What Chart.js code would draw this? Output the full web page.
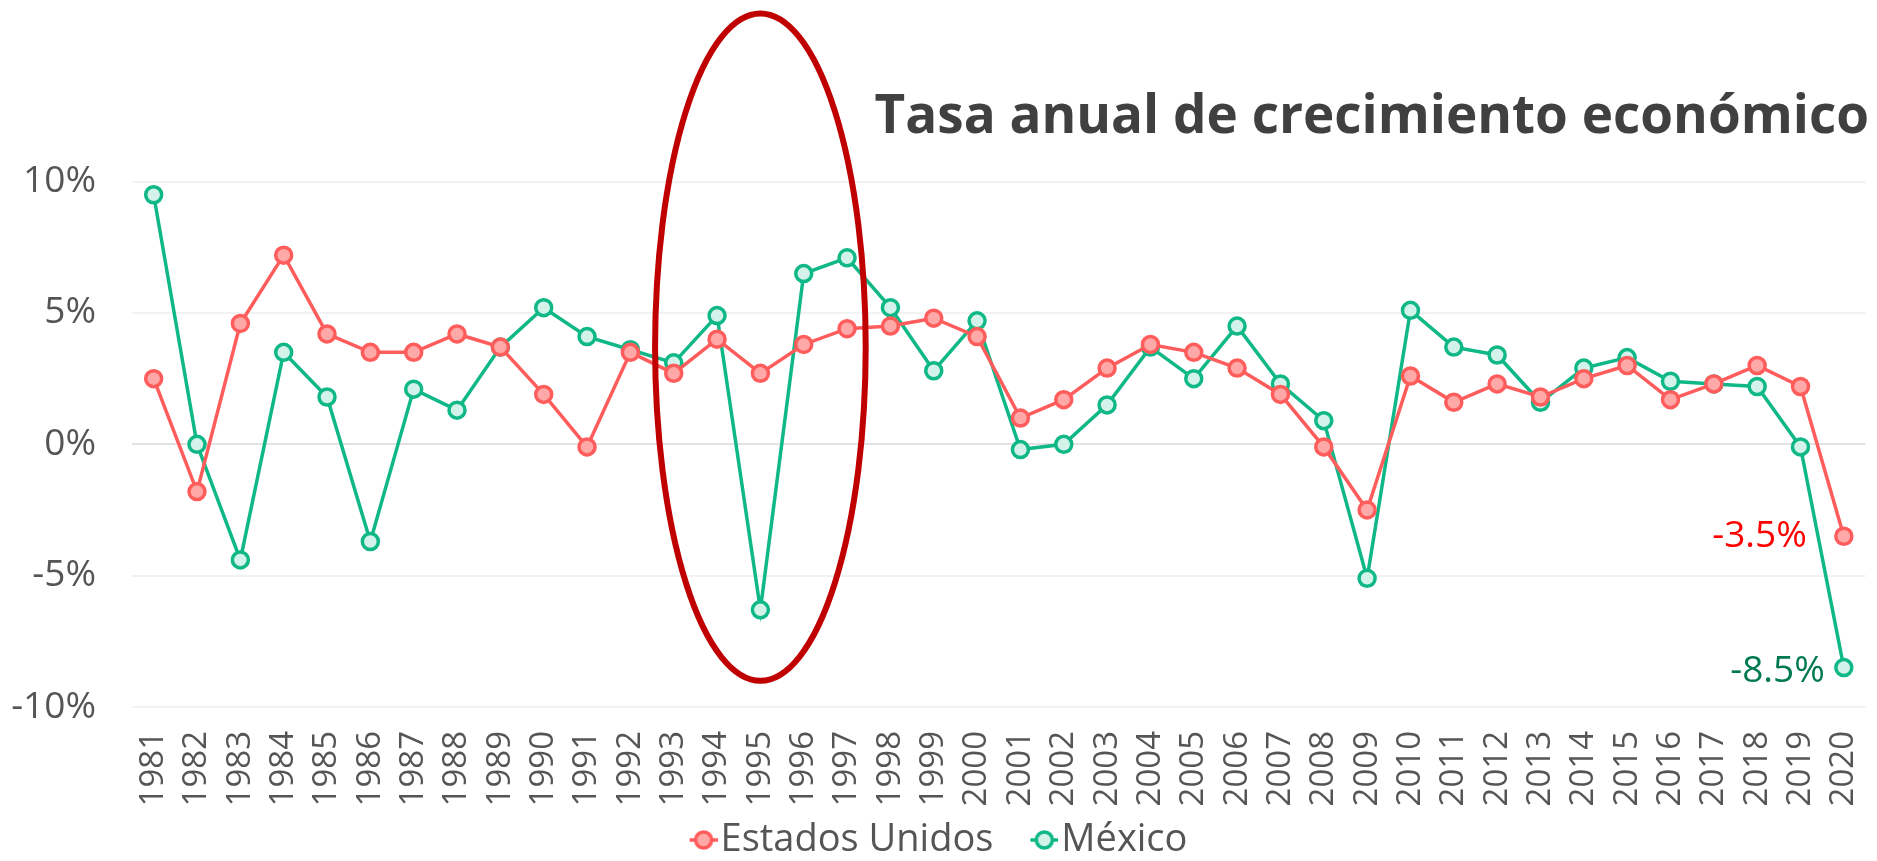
<!DOCTYPE html>
<html>
<head>
<meta charset="utf-8">
<script src="https://cdn.jsdelivr.net/npm/chart.js@4.4.0/dist/chart.umd.min.js"></script>
<style>
  html, body { margin: 0; padding: 0; background: #fff; }
</style>
</head>
<body>
<canvas id="growthChart" width="1877" height="861"></canvas>
<script>
// Categories
const years = [
    "1981", "1982", "1983", "1984", "1985", "1986", "1987", "1988", "1989", "1990",
    "1991", "1992", "1993", "1994", "1995", "1996", "1997", "1998", "1999", "2000",
    "2001", "2002", "2003", "2004", "2005", "2006", "2007", "2008", "2009", "2010",
    "2011", "2012", "2013", "2014", "2015", "2016", "2017", "2018", "2019", "2020"
];

// Series values (% annual growth)
const usGrowth = [
    2.5, -1.8, 4.6, 7.2, 4.2, 3.5, 3.5, 4.2, 3.7, 1.9,
    -0.1, 3.5, 2.7, 4.0, 2.7, 3.8, 4.4, 4.5, 4.8, 4.1,
    1.0, 1.7, 2.9, 3.8, 3.5, 2.9, 1.9, -0.1, -2.5, 2.6,
    1.6, 2.3, 1.8, 2.5, 3.0, 1.7, 2.3, 3.0, 2.2, -3.5
];
const mexicoGrowth = [
    9.5, 0.0, -4.4, 3.5, 1.8, -3.7, 2.1, 1.3, 3.7, 5.2,
    4.1, 3.6, 3.1, 4.9, -6.3, 6.5, 7.1, 5.2, 2.8, 4.7,
    -0.2, 0.0, 1.5, 3.7, 2.5, 4.5, 2.3, 0.9, -5.1, 5.1,
    3.7, 3.4, 1.6, 2.9, 3.3, 2.4, 2.3, 2.2, -0.1, -8.5
];

// Tick labels
const yTicks = [-10, -5, 0, 5, 10];

// Highlight ellipse around 1995 (data units)
const highlightYear = "1995";
const highlightTop = 16.4;
const highlightBottom = -9.0;
const highlightHalfWidth = 2.43; // in categories

const fontFamily = "'Open Sans', 'DejaVu Sans', sans-serif";

// Legend marker: short line with a circle in the middle,
// drawn on the right part of the canvas so it sits close to the text
function legendMarker(lineColor, fillColor) {
    const c = document.createElement("canvas");
    c.width = 52;
    c.height = 26;
    const g = c.getContext("2d");
    g.strokeStyle = lineColor;
    g.lineWidth = 3.5;
    g.beginPath();
    g.moveTo(24, 13);
    g.lineTo(52, 13);
    g.stroke();
    g.beginPath();
    g.arc(38, 13, 8, 0, Math.PI * 2);
    g.fillStyle = fillColor;
    g.fill();
    g.stroke();
    return c;
}

const markers = [
    legendMarker("#ff5c5c", "#ffa8a8"),
    legendMarker("#0fb886", "#d3f3ea")
];

// Legend: padding is used as item spacing, so fix the box height
// and lift the drawing a bit
const legendFix = {
    id: "legendFix",
    beforeLayout(chart) {
        const lg = chart.legend;
        if (lg && !lg._fixed) {
            const fit = lg.fit;
            const draw = lg.draw;
            lg.fit = function () {
                fit.call(this);
                this.height = 48;
            };
            lg.draw = function () {
                this.top -= 21;
                draw.call(this);
                this.top += 21;
            };
            lg._fixed = true;
        }
    }
};

// Draws the red ellipse and the last-value labels
const annotations = {
    id: "annotations",
    afterDatasetsDraw(chart) {
        const ctx = chart.ctx;
        const x = chart.scales.x;
        const y = chart.scales.y;

        // last value labels
        const labelColors = ["#ff0000", "#007a4e"];
        const labelGap = [37, 19];
        const labelShift = [0, 4];
        chart.data.datasets.forEach((ds, i) => {
            const meta = chart.getDatasetMeta(i);
            const pt = meta.data[meta.data.length - 1];
            const v = ds.data[ds.data.length - 1];
            ctx.save();
            ctx.font = "37px " + fontFamily;
            ctx.fillStyle = labelColors[i];
            ctx.textAlign = "right";
            ctx.textBaseline = "middle";
            ctx.fillText(v.toFixed(1) + "%", pt.x - labelGap[i], pt.y + labelShift[i]);
            ctx.restore();
        });

        // ellipse
        const idx = years.indexOf(highlightYear);
        const cx = x.getPixelForValue(idx);
        const rx = (x.getPixelForValue(1) - x.getPixelForValue(0)) * highlightHalfWidth;
        const top = y.getPixelForValue(highlightTop);
        const bottom = y.getPixelForValue(highlightBottom);
        ctx.save();
        ctx.strokeStyle = "#c00000";
        ctx.lineWidth = 6;
        ctx.beginPath();
        ctx.ellipse(cx, (top + bottom) / 2, rx, (bottom - top) / 2, 0, 0, Math.PI * 2);
        ctx.stroke();
        ctx.restore();
    }
};

const ctx = document.getElementById("growthChart").getContext("2d");

const growthChart = new Chart(ctx, {
    type: "line",
    data: {
        labels: years,
        datasets: [{
            label: "Estados Unidos",
            data: usGrowth,
            borderColor: "#ff5c5c",
            backgroundColor: "#ffa8a8",
            pointBackgroundColor: "#ffa8a8",
            pointBorderColor: "#ff5c5c",
            borderWidth: 3.5,
            pointRadius: 8,
            pointBorderWidth: 3.5,
            tension: 0
        }, {
            label: "México",
            data: mexicoGrowth,
            borderColor: "#0fb886",
            backgroundColor: "#d3f3ea",
            pointBackgroundColor: "#d3f3ea",
            pointBorderColor: "#0fb886",
            borderWidth: 3.5,
            pointRadius: 8,
            pointBorderWidth: 3.5,
            tension: 0
        }]
    },
    options: {
        responsive: false,
        animation: false,
        layout: {
            padding: { top: 82, right: 8, left: 0, bottom: 0 }
        },
        plugins: {
            title: {
                display: true,
                text: "Tasa anual de crecimiento económico",
                align: "end",
                color: "#404040",
                font: { family: fontFamily, size: 53, weight: "bold" },
                padding: { top: 4, bottom: 32 }
            },
            legend: {
                position: "bottom",
                labels: {
                    usePointStyle: true,
                    pointStyleWidth: 20,
                    color: "#555555",
                    font: { family: fontFamily, size: 38 },
                    padding: 29,
                    generateLabels(chart) {
                        const items = Chart.defaults.plugins.legend.labels.generateLabels(chart);
                        items.forEach((it, i) => { it.pointStyle = markers[i]; });
                        return items;
                    }
                }
            },
            tooltip: { enabled: false }
        },
        scales: {
            x: {
                offset: true,
                grid: { display: false, drawTicks: false },
                border: { display: false },
                ticks: {
                    color: "#555555",
                    font: { family: fontFamily, size: 33 },
                    minRotation: 90,
                    maxRotation: 90,
                    autoSkip: false,
                    padding: 24
                },
                afterFit(scale) {
                    scale.height = 106;
                    scale.paddingLeft = 0;
                    scale.paddingRight = 0;
                }
            },
            y: {
                min: -10,
                max: 10,
                grid: {
                    drawTicks: false,
                    lineWidth: 2,
                    color: (c) => c.tick && c.tick.value === 0 ? "#e2e2e2" : "#f2f2f2"
                },
                border: { display: false },
                afterBuildTicks(scale) {
                    scale.ticks = yTicks.map(v => ({ value: v }));
                },
                ticks: {
                    color: "#555555",
                    font: { family: fontFamily, size: 37 },
                    padding: 36,
                    callback: (v) => v + "%"
                },
                afterFit(scale) { scale.width = 132; }
            }
        }
    },
    plugins: [legendFix, annotations]
});
</script>
</body>
</html>
